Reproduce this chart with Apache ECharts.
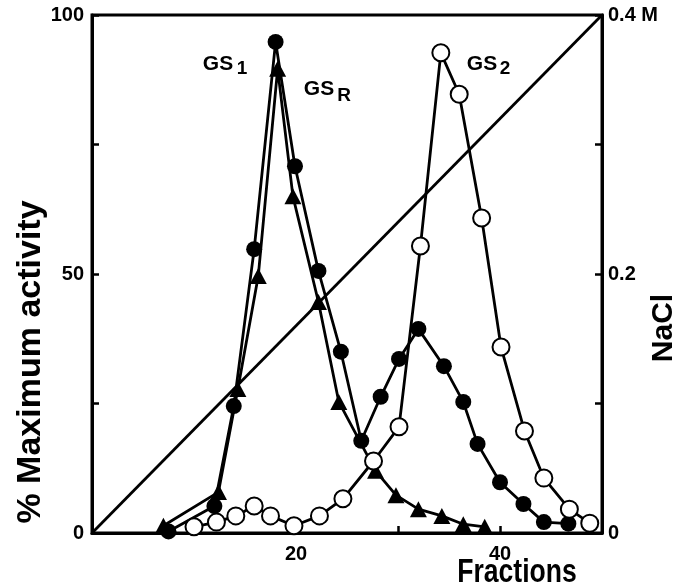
<!DOCTYPE html>
<html>
<head>
<meta charset="utf-8">
<script src="https://cdn.jsdelivr.net/npm/echarts@6/dist/echarts.min.js"></script>
<style>html,body{margin:0;padding:0;background:#fff}#c{width:676px;height:587px}</style>
</head>
<body>
<div id="c"></div>
<script>
// Filled circles
const filledX = [7.5, 12.0, 13.9, 15.9, 18.0, 19.9, 22.2, 24.4, 26.4, 28.3, 30.1, 32.0, 34.5, 36.4, 37.8, 40.0, 42.3, 44.3, 46.7];
const filledY = [0.3, 5.2, 24.5, 54.8, 94.8, 70.8, 50.6, 35.0, 17.8, 26.3, 33.6, 39.4, 32.2, 25.3, 17.2, 9.8, 5.6, 2.1, 1.8];
// Filled triangles
const triX = [7.0, 12.4, 14.3, 16.3, 18.2, 19.7, 22.2, 24.2, 27.8, 29.8, 32.0, 34.3, 36.4, 38.5];
const triY = [1.4, 7.9, 27.8, 49.6, 89.6, 65.0, 44.6, 25.3, 12.0, 7.3, 4.6, 3.3, 1.7, 1.2];
// Open circles
const openX = [10.0, 12.2, 14.1, 15.9, 17.5, 19.8, 22.3, 24.6, 27.6, 30.1, 32.2, 34.2, 36.0, 38.2, 40.1, 42.4, 44.3, 46.8, 48.8];
const openY = [1.2, 2.1, 3.3, 5.2, 3.3, 1.4, 3.3, 6.6, 13.9, 20.5, 55.4, 92.7, 84.7, 60.8, 35.9, 19.7, 10.6, 4.6, 1.9];
// NaCl gradient
const naclX = [0, 50];
const naclY = [0, 0.4];
// Tick labels
const xTickLabels = {20: '20', 40: '40'};
const yTickLabels = {0: '0', 50: '50', 100: '100'};
const y2TickLabels = {0: '0', 2: '0.2', 4: '0.4 M'};

const zip = (xs, ys) => xs.map((x, i) => [x, ys[i]]);
const FONT = "'Liberation Sans', Arial, sans-serif";

const chart = echarts.init(document.getElementById('c'), null, {renderer: 'canvas'});
const axisLine = {show: true, lineStyle: {color: '#000', width: 3}};
const axisTick = {show: true, inside: true, length: 7, lineStyle: {color: '#000', width: 2.5}};
const labelStyle = {color: '#000', fontFamily: FONT, fontWeight: 'bold', fontSize: 20};

chart.setOption({
  animation: false,
  backgroundColor: '#fff',
  grid: {left: 92, right: 74, top: 15, bottom: 54, show: true, borderColor: '#000', borderWidth: 3, backgroundColor: 'transparent'},
  xAxis: {
    type: 'value', min: 0, max: 50, interval: 10,
    axisLine, axisTick, splitLine: {show: false},
    axisLabel: Object.assign({margin: 11, formatter: v => xTickLabels[v] || ''}, labelStyle)
  },
  yAxis: [
    {
      type: 'value', min: 0, max: 100, interval: 25, position: 'left',
      axisLine, axisTick, splitLine: {show: false},
      axisLabel: Object.assign({margin: 8, formatter: v => yTickLabels[v] || ''}, labelStyle)
    },
    {
      type: 'value', min: 0, max: 0.4, interval: 0.1, position: 'right',
      axisLine, axisTick, splitLine: {show: false},
      axisLabel: Object.assign({margin: 6, formatter: v => y2TickLabels[Math.round(v * 10)] || ''}, labelStyle)
    }
  ],
  series: [
    {
      type: 'line', yAxisIndex: 1, data: zip(naclX, naclY), symbol: 'none', z: 1,
      lineStyle: {color: '#000', width: 2.8}
    },
    {
      type: 'line', data: zip(triX, triY), symbol: 'triangle', symbolSize: [17, 16], z: 2,
      lineStyle: {color: '#000', width: 2.8}, itemStyle: {color: '#000', borderWidth: 0}
    },
    {
      type: 'line', data: zip(filledX, filledY), symbol: 'circle', symbolSize: 16, z: 3,
      lineStyle: {color: '#000', width: 2.8}, itemStyle: {color: '#000', borderWidth: 0}
    },
    {
      type: 'line', data: zip(openX, openY), symbol: 'circle', symbolSize: 17, z: 4,
      lineStyle: {color: '#000', width: 2.8}, itemStyle: {color: '#fff', borderColor: '#000', borderWidth: 2}
    }
  ],
  graphic: [
    {type: 'text', x: 31, y: 362, rotation: Math.PI / 2, z: 10,
      style: {text: '% Maximum activity', font: "bold 34px " + FONT, fill: '#000', textAlign: 'center', textVerticalAlign: 'middle'}},
    {type: 'text', x: 664, y: 328, rotation: Math.PI / 2, z: 10,
      style: {text: 'NaCl', font: "bold 30px " + FONT, fill: '#000', textAlign: 'center', textVerticalAlign: 'middle'}},
    {type: 'text', x: 517, y: 573, scaleX: 0.78, z: 10,
      style: {text: 'Fractions', font: "bold 34px " + FONT, fill: '#000', textAlign: 'center', textVerticalAlign: 'middle'}},
    {type: 'text', x: 218, y: 64, z: 10,
      style: {text: 'GS', font: "bold 21px " + FONT, fill: '#000', textAlign: 'center', textVerticalAlign: 'middle'}},
    {type: 'text', x: 242, y: 69, z: 10,
      style: {text: '1', font: "bold 19px " + FONT, fill: '#000', textAlign: 'center', textVerticalAlign: 'middle'}},
    {type: 'text', x: 319, y: 89, z: 10,
      style: {text: 'GS', font: "bold 21px " + FONT, fill: '#000', textAlign: 'center', textVerticalAlign: 'middle'}},
    {type: 'text', x: 344, y: 96, z: 10,
      style: {text: 'R', font: "bold 19px " + FONT, fill: '#000', textAlign: 'center', textVerticalAlign: 'middle'}},
    {type: 'text', x: 482, y: 64, z: 10,
      style: {text: 'GS', font: "bold 21px " + FONT, fill: '#000', textAlign: 'center', textVerticalAlign: 'middle'}},
    {type: 'text', x: 505, y: 69, z: 10,
      style: {text: '2', font: "bold 19px " + FONT, fill: '#000', textAlign: 'center', textVerticalAlign: 'middle'}}
  ]
});
</script>
</body>
</html>
